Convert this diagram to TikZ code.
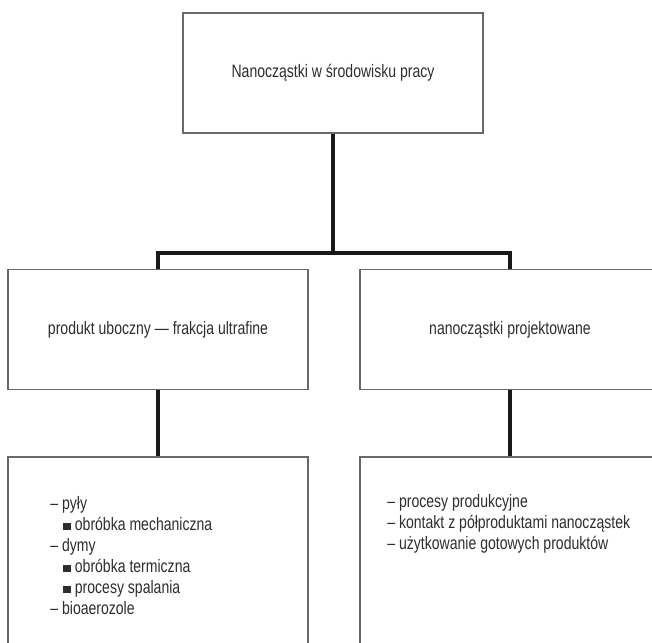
\documentclass[tikz,border=0pt]{standalone}
\usepackage{fontspec}
\setmainfont{Liberation Sans}[FakeStretch=0.78]
\usetikzlibrary{positioning}
\definecolor{boxgray}{RGB}{105,105,105}
\definecolor{textgray}{RGB}{45,45,45}
\newcommand{\sqbullet}{\rule{3.8pt}{3.8pt}}

\begin{document}
\begin{tikzpicture}[x=0.5pt, y=-0.5pt,
    catbox/.style={rectangle, draw=boxgray, line width=0.6pt,
        minimum width=150pt, minimum height=60pt, inner sep=0pt,
        font=\fontsize{9}{10.5}\selectfont, text=textgray},
    listbox/.style={rectangle, draw=boxgray, line width=0.6pt,
        minimum width=150pt, minimum height=150pt, inner sep=0pt},
    listtext/.style={anchor=north west, align=left, inner sep=0pt,
        font=\fontsize{9}{10.5}\selectfont, text=textgray},
    link/.style={line width=1.8pt, black!90, line join=miter}
]
    \useasboundingbox (0,0) rectangle (652,642);
    \clip (0,0) rectangle (652,642);

    % top
    \node[catbox] (root) at (333,73) {Nanocząstki w środowisku pracy};

    % second level
    \node[catbox] (byprod) at (158,329.5) {produkt uboczny --- frakcja ultrafine};
    \node[catbox] (engin) at (510,329.5) {nanocząstki projektowane};

    % third level
    \node[listbox] (byproditems) at (158,607) {};
    \node[listbox] (enginitems) at (510,607) {};
    \node[listtext] (byprodlist) at (50,496) {%
        -- pyły\\
        \hspace{6.5pt}\sqbullet\ obróbka mechaniczna\\
        -- dymy\\
        \hspace{6.5pt}\sqbullet\ obróbka termiczna\\
        \hspace{6.5pt}\sqbullet\ procesy spalania\\
        -- bioaerozole};
    \node[listtext] (enginlist) at (387,494) {%
        -- procesy produkcyjne\\
        -- kontakt z półproduktami nanocząstek\\
        -- użytkowanie gotowych produktów};

    % connectors
    \coordinate (split) at (333,253);
    \draw[link] (root.south) -- (split);
    \draw[link] (byprod.north) |- (split) -| (engin.north);
    \draw[link] (byprod.south) -- (byproditems.north);
    \draw[link] (engin.south) -- (enginitems.north);
\end{tikzpicture}
\end{document}
